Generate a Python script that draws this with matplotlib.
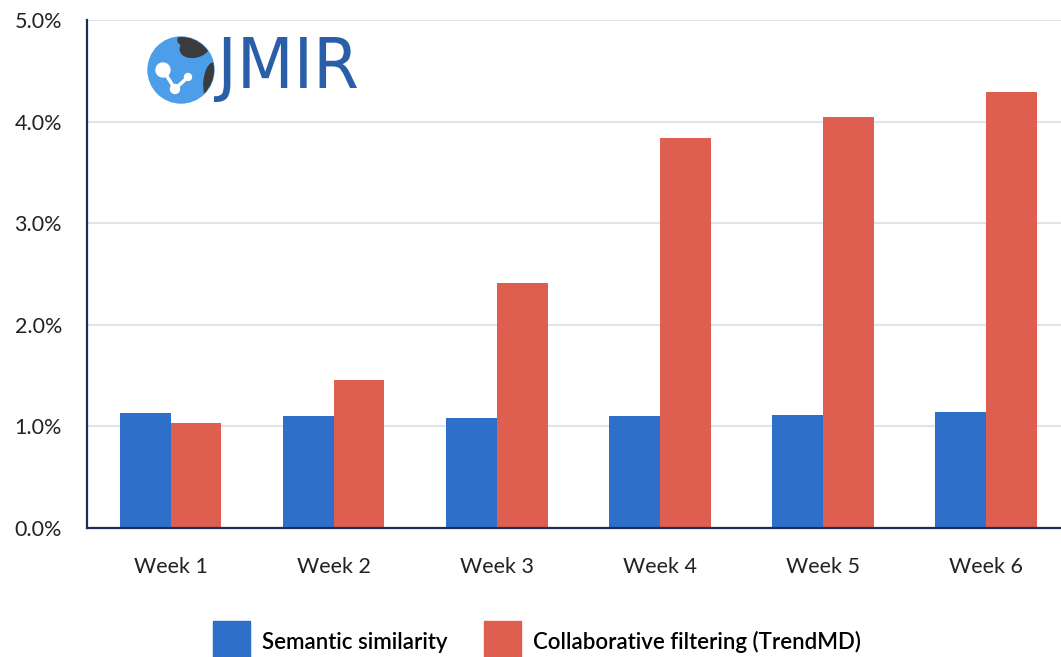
import matplotlib
matplotlib.use("Agg")
import matplotlib.pyplot as plt
import numpy as np
from matplotlib.patches import Circle, Ellipse, Patch, PathPatch
from matplotlib.textpath import TextPath
from matplotlib.font_manager import FontProperties
from matplotlib.transforms import Affine2D
from matplotlib.ticker import FuncFormatter

weeks = ["Week 1", "Week 2", "Week 3", "Week 4", "Week 5", "Week 6"]
semantic = [1.13, 1.10, 1.08, 1.10, 1.11, 1.14]
collab = [1.03, 1.46, 2.41, 3.84, 4.05, 4.29]
series_names = ["Semantic similarity", "Collaborative filtering (TrendMD)"]

BLUE = "#2e6fc9"
RED = "#de5f4f"
W, H = 1061, 657

plt.rcParams['font.family'] = ['Lato', 'DejaVu Sans']
fig = plt.figure(figsize=(W / 100, H / 100), dpi=100)
ax = fig.add_axes([87 / W, (H - 528) / H, 1 - 87 / W, (528 - 20) / H])

x = np.arange(len(weeks))
bw = 0.31
ax.bar(x - bw / 2, semantic, bw, color=BLUE, zorder=2)
ax.bar(x + bw / 2, collab, bw, color=RED, zorder=2)

ax.set_xlim(-0.515, 5.46)
ax.set_ylim(0, 5.0)
ax.set_yticks(np.arange(0, 5.01, 1.0))
ax.yaxis.set_major_formatter(FuncFormatter(lambda v, p: f"{v:.1f}%"))
ax.set_xticks(x)
ax.set_xticklabels(weeks)
ax.tick_params(axis='both', length=0, labelsize=15.5, colors='#222222')
ax.tick_params(axis='x', pad=21)
ax.tick_params(axis='y', pad=18)
ax.grid(axis='y', color='#dfe3ec', linewidth=1.5, zorder=0)
for s in ['top', 'right']:
    ax.spines[s].set_visible(False)
for s in ['left', 'bottom']:
    ax.spines[s].set_color('#1f2d5a')
    ax.spines[s].set_linewidth(1.6)

handles = [Patch(color=BLUE), Patch(color=RED)]
leg = fig.legend(handles, series_names, loc='upper left',
                 bbox_to_anchor=(213 / W, (H - 621) / H), ncol=2, frameon=False,
                 prop=FontProperties(family=['Lato', 'DejaVu Sans'], weight='semibold', size=16),
                 handlelength=1.65, handleheight=2.6, handletextpad=0.55,
                 columnspacing=1.65, borderaxespad=0, borderpad=0)

# Logo
lx0, lx1, ly0, ly1 = 140, 365, 30, 110
lax = fig.add_axes([lx0 / W, (H - ly1) / H, (lx1 - lx0) / W, (ly1 - ly0) / H])
lax.set_xlim(lx0, lx1)
lax.set_ylim(ly1, ly0)
lax.axis('off')
globe = Circle((181, 70), 33, color='#4d9ee8', zorder=1)
lax.add_patch(globe)
for (cx, cy, w_, h_, ang) in [(195, 47, 30, 20, -15), (212, 82, 16, 38, 5), (184, 40, 12, 10, 0)]:
    e = Ellipse((cx, cy), w_, h_, angle=ang, color='#3b3b3d', zorder=2)
    lax.add_patch(e)
    e.set_clip_path(globe)
lax.plot([163, 175, 188], [70, 89, 77], color='white', lw=2.5, zorder=3)
for (cx, cy, r) in [(163, 70, 7), (175, 89, 4.5), (188, 77, 3.5)]:
    lax.add_patch(Circle((cx, cy), r, color='white', zorder=4))

tp = TextPath((0, 0), "JMIR", prop=FontProperties(family='DejaVu Sans', weight='normal'))
ext = tp.get_extents()
sx = (357 - 214) / ext.width
sy = (102 - 37) / ext.height
tr = Affine2D().translate(-ext.x0, -ext.y0).scale(sx, -sy).translate(214, 102)
lax.add_patch(PathPatch(tr.transform_path(tp), color='#2a5ea8', lw=0, zorder=2))

fig.savefig("out.png", dpi=100, facecolor='white')
